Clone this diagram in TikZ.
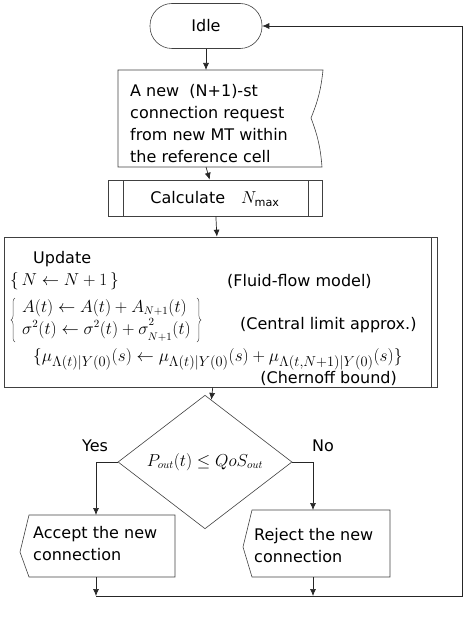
\documentclass[tikz,border=0pt]{standalone}
\usepackage{fontspec}
\setmainfont{DejaVu Sans}
\usetikzlibrary{arrows.meta,shapes.geometric,decorations.pathreplacing}
\tikzset{box/.style={draw=black!75,line width=.6pt},
    flow/.style={draw=black!85,line width=.7pt,-{Latex[length=7pt,width=6pt]}},
    txt/.style={font=\fontsize{16}{22}\selectfont,align=left,inner sep=0pt},
    curly/.style={draw=black!70,line width=.5pt,decorate,
        decoration={brace,amplitude=4pt}}
}

\begin{document}
\begin{tikzpicture}[x=1pt,y=-1pt]
        \useasboundingbox (0,0) rectangle (465,623);
        % terminal
        \node[box,txt,rounded corners=22pt,minimum width=112pt,
        minimum height=45pt] (idle) at (206,26) {Idle};
        % request (curved right side)
        \draw[box] (118,70) -- (323,70) to[bend left=8] (311,118)
            to[bend left=8] (322,167) -- (118,167) -- cycle;
        \coordinate (reqtop) at (206,70);
        \coordinate (reqbot) at (206,167);
        \node[txt,anchor=west] (req) at (130,124)
            {A new\ \ (N+1)-st\\connection request\\from new MT within\\the reference cell};
        % predefined process
        \node[box,minimum width=214pt,minimum height=36pt] (calc) at (215,198) {};
        \draw[box] (123,180) -- (123,216) (308,180) -- (308,216);
        \node[txt] (calctxt) at (215,199) {Calculate\quad $N_{\max}$};
        % update block
        \node[box,minimum width=433pt,minimum height=150pt] (upd) at (220.5,312) {};
        \draw[box] (431,237) -- (431,387);
        \node[txt,anchor=west] (updtxt) at (33,259) {Update};
        \node[txt,anchor=west] (ninc) at (10,281) {$\{\,N\leftarrow N+1\,\}$};
        \node[txt,anchor=west] (fluid) at (227,281) {(Fluid-flow model)};
        \node[txt,anchor=west] (clt1) at (22,308) {$A(t)\leftarrow A(t)+A_{N+1}(t)$};
        \node[txt,anchor=west] (clt2) at (22,330)
            {$\sigma^2(t)\leftarrow\sigma^2(t)+\sigma^{\raisebox{2pt}{$\scriptstyle 2$}}_{\raisebox{-2pt}{$\scriptstyle N+1$}}(t)$};
        \draw[curly] (15,342) coordinate (bl) -- (15,298) coordinate (tl);
        \draw[curly] (clt2.east |- tl) ++(6,0) coordinate (tr) -- ++(0,44) coordinate (br);
        \node[txt,anchor=west] (clta) at (240,325) {(Central limit approx.)};
        \node[txt,font=\fontsize{19}{22}\selectfont,anchor=west] (chm) at (33,359)
            {$\{\mu_{\Lambda(t)|Y(0)}(s)\leftarrow
            \mu_{\Lambda(t)|Y(0)}(s)+\mu_{\Lambda(t,N+1)|Y(0)}(s)\}$};
        \node[txt,anchor=east] (chb) at (397,378) {(Chernoff bound)};
        % decision
        \node[box,txt,diamond,minimum width=174pt,minimum height=97pt]
            (dec) at (205,462) {$P_{out}(t)\leq QoS_{out}$};
        \node[txt] (yes) at (95,446) {Yes};
        \node[txt] (no) at (323,446) {No};
        % accept / reject (pointed left side)
        \draw[box] (29,515) -- (175,515) -- (175,577) -- (29,577) -- (20,552) -- cycle;
        \coordinate (acctop) at (96,515);
        \coordinate (accbot) at (96,577);
        \node[txt,anchor=west] (acc) at (33,544) {Accept the new\\connection};
        \draw[box] (252,510) -- (390,510) -- (390,577) -- (252,577) -- (243,547) -- cycle;
        \coordinate (rejtop) at (313,510);
        \coordinate (rejbot) at (313,577);
        \node[txt,anchor=west] (rej) at (254,546) {Reject the new\\connection};
        % joins
        \coordinate (joinl) at (96,596);
        \coordinate (joinr) at (313,596);
        \coordinate (corner) at (462,596);
        % connectors
        \draw[flow] (idle) -- (reqtop);
        \draw[flow] (reqbot) -- (calc);
        \draw[flow] (calc) -- (upd);
        \draw[flow] (upd) -- (dec);
        \draw[flow] (dec.west) -| (acctop);
        \draw[flow] (dec.east) -| (rejtop);
        \draw[flow] (accbot) -- (joinl);
        \draw[flow] (rejbot) -- (joinr);
        \draw[flow] (joinl) -- (corner) |- (idle.east);
    \end{tikzpicture}
\end{document}
